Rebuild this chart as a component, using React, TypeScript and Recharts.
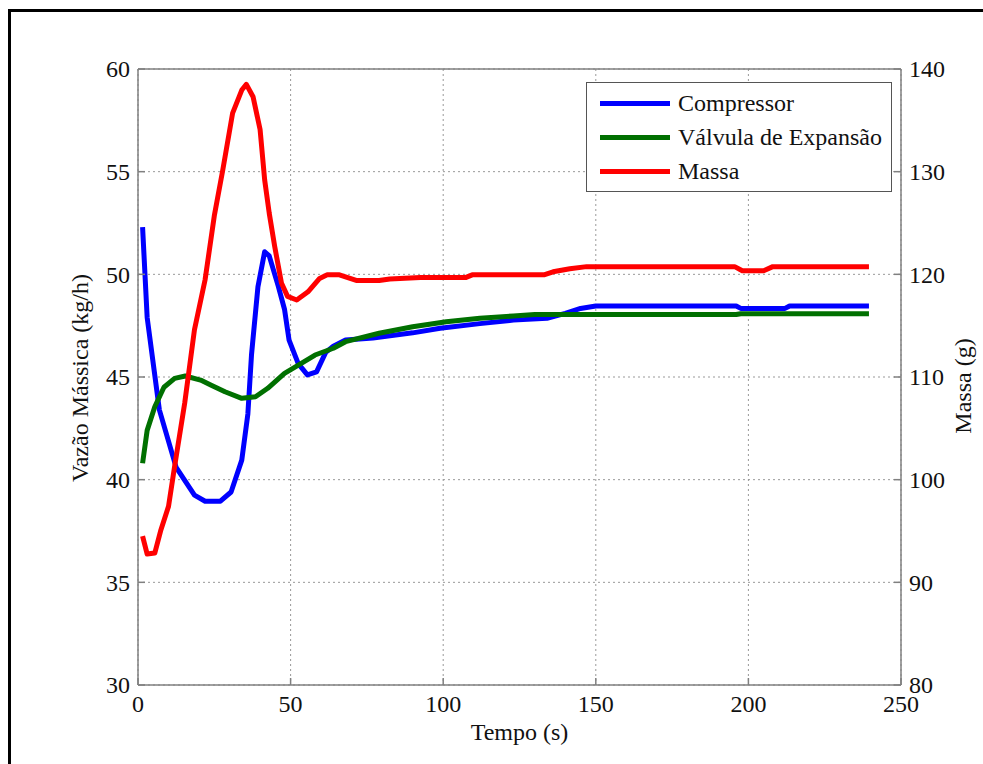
import {
  LineChart, Line, XAxis, YAxis, CartesianGrid, Legend, ReferenceLine,
} from 'recharts';

// Compressor mass flow (kg/h), left axis
const compressorTime = [1.5, 3, 7, 12.5, 18.5, 22, 27, 30.5, 34, 36, 37.2, 39.3, 41.5, 43, 46, 48, 49.5, 52.5, 55.5, 58.5, 61.5, 64, 68, 77, 90, 99, 112, 123, 134, 140, 145, 150, 196, 197.5, 212, 213.5, 239.5];
const compressorFlow = [52.3, 47.9, 43.4, 40.6, 39.25, 38.95, 38.95, 39.4, 40.95, 43.2, 46.1, 49.4, 51.1, 50.9, 49.4, 48.3, 46.8, 45.65, 45.1, 45.25, 46.2, 46.5, 46.8, 46.9, 47.15, 47.37, 47.6, 47.77, 47.86, 48.1, 48.34, 48.46, 48.46, 48.34, 48.34, 48.46, 48.46];

// Expansion valve mass flow (kg/h), left axis
const valveTime = [1.5, 3, 5.5, 8.5, 12, 15.5, 20.5, 24, 28.5, 34, 38.5, 42.5, 48, 53.5, 58, 64, 68, 79, 90, 101, 112, 123, 130, 196, 197.5, 239.5];
const valveFlow = [40.8, 42.4, 43.55, 44.5, 44.93, 45.05, 44.85, 44.6, 44.28, 43.96, 44.04, 44.45, 45.18, 45.66, 46.07, 46.4, 46.72, 47.13, 47.45, 47.69, 47.86, 47.97, 48.04, 48.04, 48.08, 48.08];

// Refrigerant mass (g), right axis
const massTime = [1.5, 3, 5.5, 7.5, 10, 12, 15.3, 18.5, 22, 25, 27.8, 31, 34, 35.5, 37.7, 40, 41.5, 43, 44.8, 47, 49, 52, 55.7, 59.5, 62, 66, 71.5, 79, 82.5, 92.5, 107.5, 109.5, 133, 136, 141.5, 147, 195.5, 198, 205, 208, 239.5];
const massValue = [94.5, 92.75, 92.85, 95.1, 97.4, 101.3, 107.45, 114.6, 119.5, 125.7, 130.2, 135.7, 137.95, 138.5, 137.3, 134.1, 129.2, 125.95, 122.7, 119.15, 117.85, 117.5, 118.3, 119.6, 119.95, 119.95, 119.4, 119.4, 119.55, 119.7, 119.7, 119.95, 119.95, 120.25, 120.55, 120.75, 120.75, 120.35, 120.35, 120.75, 120.75];

const timeTicks = [0, 50, 100, 150, 200, 250];
const flowTicks = [30, 35, 40, 45, 50, 55, 60];
const massTicks = [80, 90, 100, 110, 120, 130, 140];

const FONT = '"Liberation Serif", "Times New Roman", serif';
const AXIS = '#808080';

const toPoints = (ts: number[], vs: number[]) => ts.map((t, i) => ({ t, v: vs[i] }));

const series = [
  { name: 'Compressor', color: '#0000ff', axis: 'flow', data: toPoints(compressorTime, compressorFlow) },
  { name: 'Válvula de Expansão', color: '#007000', axis: 'flow', data: toPoints(valveTime, valveFlow) },
  { name: 'Massa', color: '#ff0000', axis: 'mass', data: toPoints(massTime, massValue) },
];

// serif tick text; recharts passes the text anchor point and alignment
const SerifTick = (props: any) => {
  const { x, y, payload, textAnchor, vertical } = props;
  return (
    <text x={x} y={y} textAnchor={textAnchor} dy={vertical ? '0.35em' : '0.72em'}
      fontFamily={FONT} fontSize={24} fill="#111">{payload.value}</text>
  );
};

function LegendBox() {
  return (
    <div style={{
      width: 306, height: 110, border: '1px solid #555', background: '#fff',
      boxSizing: 'border-box', padding: '3px 0 0 13px', fontFamily: FONT, fontSize: 24, color: '#111',
    }}>
      {series.map((s) => (
        <div key={s.name} style={{ display: 'flex', alignItems: 'center', height: 34 }}>
          <span style={{ display: 'inline-block', width: 70, height: 5, background: s.color, marginRight: 8 }} />
          <span>{s.name}</span>
        </div>
      ))}
    </div>
  );
}

// rotated axis title; uses its own coords (lx, ly) so recharts' x/y don't override them
const VertLabel = ({ lx, ly, text }: { lx: number; ly: number; text: string }) => (
  <text x={lx} y={ly} transform={`rotate(-90 ${lx} ${ly})`} textAnchor="middle"
    fontFamily={FONT} fontSize={24} fill="#111">{text}</text>
);

export default function App() {
  return (
    <div style={{ position: 'fixed', left: 0, top: 0, width: 983, height: 764, overflow: 'hidden', background: '#fff', fontFamily: FONT }}>
      <div style={{ position: 'absolute', left: 8, top: 9, width: 1100, height: 900, border: '3px solid #000' }} />
      <div style={{ position: 'absolute', left: 0, top: 0 }}>
        <LineChart width={983} height={764} margin={{ top: 69, right: 22, bottom: 49, left: 78 }}
          style={{ fontFamily: FONT }}>
          <CartesianGrid yAxisId="flow" stroke="#999" strokeDasharray="2 3" />
          <XAxis dataKey="t" type="number" domain={[0, 250]} ticks={timeTicks} allowDataOverflow
            height={30} stroke={AXIS} strokeWidth={1.5} tickSize={-7} tickMargin={17}
            tick={<SerifTick vertical={false} />}
            label={{ value: 'Tempo (s)', position: 'bottom', offset: 8, fill: '#111', fontSize: 24, fontFamily: FONT }} />
          <YAxis yAxisId="flow" domain={[30, 60]} ticks={flowTicks} allowDataOverflow width={60}
            stroke={AXIS} strokeWidth={1.5} tickSize={-7} tickMargin={15}
            tick={<SerifTick vertical />}
            label={<VertLabel lx={88} ly={378} text="Vazão Mássica (kg/h)" />} />
          <YAxis yAxisId="mass" orientation="right" domain={[80, 140]} ticks={massTicks} allowDataOverflow width={60}
            stroke={AXIS} strokeWidth={1.5} tickSize={-7} tickMargin={15}
            tick={<SerifTick vertical />}
            label={<VertLabel lx={971} ly={386} text="Massa (g)" />} />
          <ReferenceLine yAxisId="flow" y={60} stroke={AXIS} strokeWidth={1.5} />
          {series.map((s) => (
            <Line key={s.name} yAxisId={s.axis} data={s.data} dataKey="v" name={s.name}
              type="linear" stroke={s.color} strokeWidth={5} dot={false}
              strokeLinejoin="round" isAnimationActive={false} />
          ))}
          <Legend layout="vertical" align="center" verticalAlign="middle" content={<LegendBox />}
            wrapperStyle={{ left: 586, top: 82, width: 306, height: 110 }} />
        </LineChart>
      </div>
    </div>
  );
}
